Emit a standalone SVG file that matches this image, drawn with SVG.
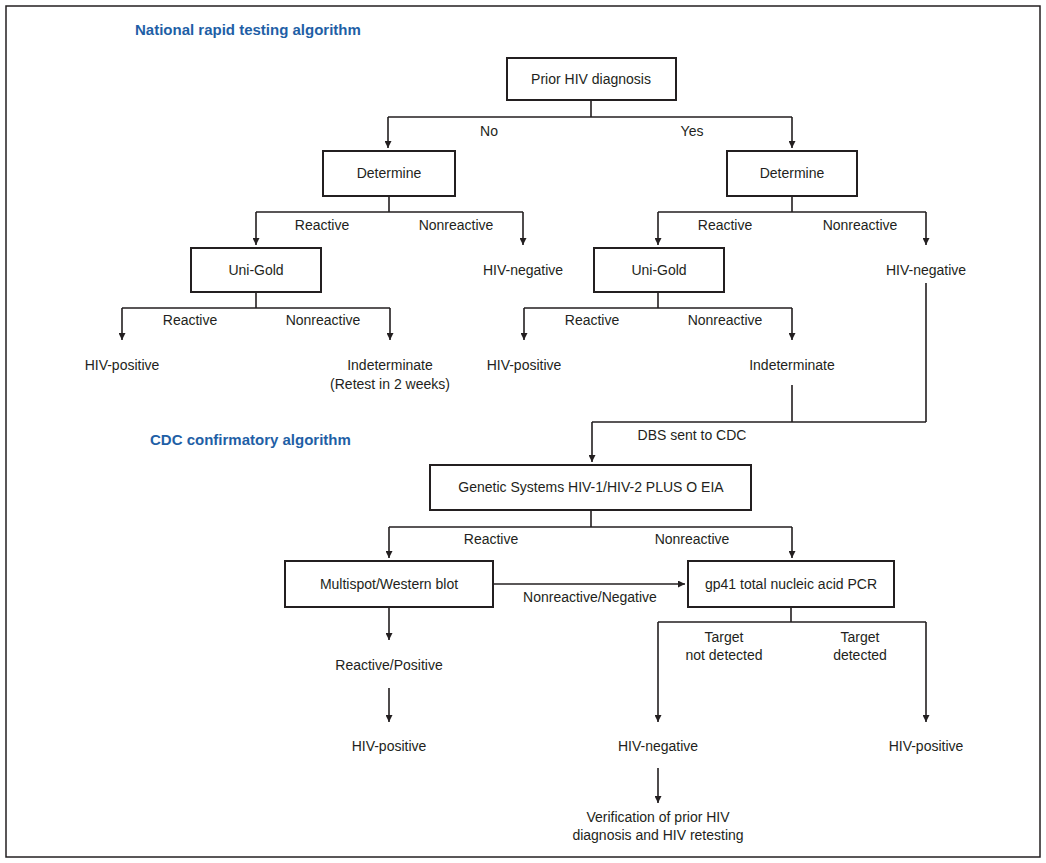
<svg xmlns="http://www.w3.org/2000/svg" width="1046" height="863" viewBox="0 0 1046 863">
<defs>
<marker id="ah" viewBox="0 0 10 10" refX="10" refY="5" markerWidth="7" markerHeight="7" markerUnits="userSpaceOnUse" orient="auto"><path d="M0,0 L10,5 L0,10 z" fill="#231f20"/></marker>
<style>
text{font-family:"Liberation Sans",Arial,sans-serif;font-size:14px;fill:#231f20;text-anchor:middle}
.t{font-weight:bold;fill:#1f5fa6;font-size:15px;text-anchor:start}
.b{fill:#fff;stroke:#231f20;stroke-width:2}
.c path{fill:none;stroke:#231f20;stroke-width:1.6}
.a{marker-end:url(#ah)}
</style>
</defs>
<rect width="1046" height="863" fill="#fff"/>
<rect x="6" y="6" width="1034" height="851" fill="none" stroke="#231f20" stroke-width="1.5"/>
<text class="t" x="135" y="35">National rapid testing algorithm</text>
<text class="t" x="150" y="445">CDC confirmatory algorithm</text>
<g class="c">
<path d="M591,100V117M388,117H792"/>
<path class="a" d="M388,117V148"/><path class="a" d="M792,117V148"/>
<path d="M389,196V212M256,212H523M792,196V212M658,212H926"/>
<path class="a" d="M256,212V245"/><path class="a" d="M523,212V245"/>
<path class="a" d="M658,212V245"/><path class="a" d="M926,212V245"/>
<path d="M256,292V308M122,308H390M658,292V308M524,308H792"/>
<path class="a" d="M122,308V340"/><path class="a" d="M390,308V340"/>
<path class="a" d="M524,308V340"/><path class="a" d="M792,308V340"/>
<path d="M792,385V422M926,283V422M592,422H926"/>
<path class="a" d="M592,422V462"/>
<path d="M591,510V527M389,527H792"/>
<path class="a" d="M389,527V558"/><path class="a" d="M792,527V558"/>
<path class="a" d="M493,584H685"/>
<path class="a" d="M389,607V640"/><path class="a" d="M389,688V722"/>
<path d="M791,607V622M658,622H926"/>
<path class="a" d="M658,622V722"/><path class="a" d="M926,622V722"/>
<path class="a" d="M658,768V803"/>
</g>
<g id="prior"><rect class="b" x="507" y="58" width="169" height="42"/><text x="591" y="84">Prior HIV diagnosis</text></g>
<g id="detL"><rect class="b" x="323" y="151" width="132" height="45"/><text x="389" y="178">Determine</text></g>
<g id="detR"><rect class="b" x="727" y="151" width="130" height="45"/><text x="792" y="178">Determine</text></g>
<g id="ugL"><rect class="b" x="191" y="248" width="130" height="44"/><text x="256" y="275">Uni-Gold</text></g>
<g id="ugR"><rect class="b" x="594" y="248" width="130" height="44"/><text x="659" y="275">Uni-Gold</text></g>
<g id="gs"><rect class="b" x="430" y="465" width="321" height="45"/><text x="591" y="492">Genetic Systems HIV-1/HIV-2 PLUS O EIA</text></g>
<g id="ms"><rect class="b" x="285" y="561" width="208" height="46"/><text x="389" y="589">Multispot/Western blot</text></g>
<g id="gp"><rect class="b" x="688" y="561" width="206" height="46"/><text x="791" y="589">gp41 total nucleic acid PCR</text></g>
<g id="labels">
<text x="489" y="136">No</text><text x="692" y="136">Yes</text>
<text x="322" y="230">Reactive</text><text x="456" y="230">Nonreactive</text>
<text x="725" y="230">Reactive</text><text x="860" y="230">Nonreactive</text>
<text x="523" y="275">HIV-negative</text><text x="926" y="275">HIV-negative</text>
<text x="190" y="325">Reactive</text><text x="323" y="325">Nonreactive</text>
<text x="592" y="325">Reactive</text><text x="725" y="325">Nonreactive</text>
<text x="122" y="370">HIV-positive</text>
<text x="390" y="370">Indeterminate</text><text x="390" y="389">(Retest in 2 weeks)</text>
<text x="524" y="370">HIV-positive</text><text x="792" y="370">Indeterminate</text>
<text x="692" y="440">DBS sent to CDC</text>
<text x="491" y="544">Reactive</text><text x="692" y="544">Nonreactive</text>
<text x="590" y="602">Nonreactive/Negative</text>
<text x="389" y="670">Reactive/Positive</text>
<text x="389" y="751">HIV-positive</text>
<text x="724" y="642">Target</text><text x="724" y="660">not detected</text>
<text x="860" y="642">Target</text><text x="860" y="660">detected</text>
<text x="658" y="751">HIV-negative</text><text x="926" y="751">HIV-positive</text>
<text x="658" y="822">Verification of prior HIV</text><text x="658" y="840">diagnosis and HIV retesting</text>
</g>
</svg>
